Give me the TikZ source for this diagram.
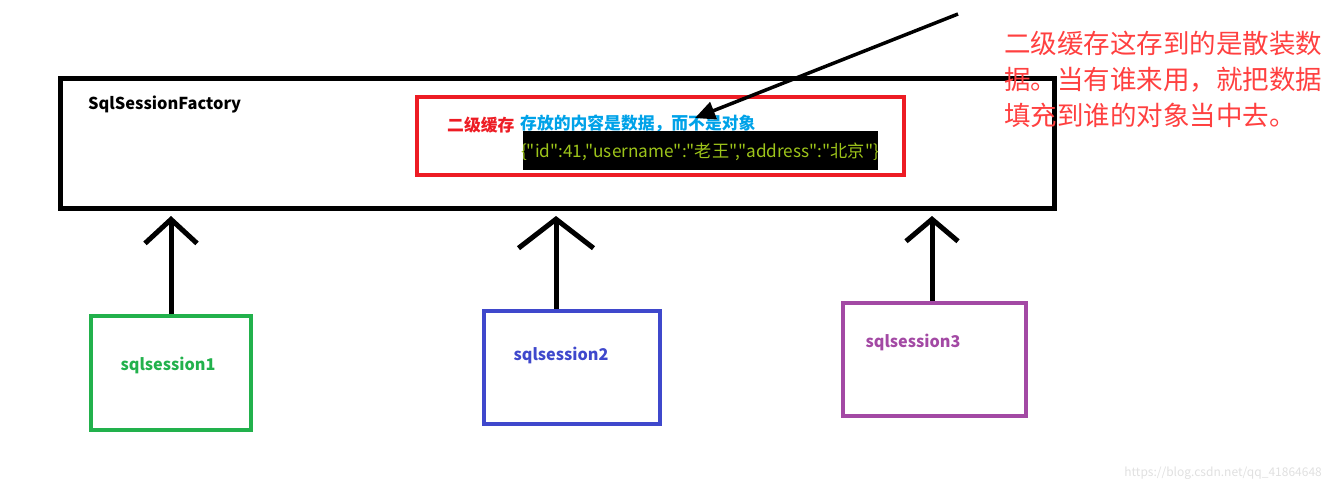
\documentclass[tikz,border=0pt]{standalone}
\usepackage{fontspec}
\setmainfont{Noto Sans CJK SC}
\newfontfamily\jsonfont{Noto Sans CJK SC}[Ligatures=TeXOff]
\usetikzlibrary{positioning, arrows.meta}
\definecolor{cachered}{HTML}{ED1C24}
\definecolor{noteblue}{HTML}{00A2E8}
\definecolor{jsongreen}{HTML}{9DC41A}
\definecolor{notered}{HTML}{FF4040}
\definecolor{sgreen}{HTML}{22B14C}
\definecolor{sblue}{HTML}{3F48CC}
\definecolor{spurple}{HTML}{A349A4}

\tikzset{
  box/.style={draw, line width=4pt, inner sep=0pt},
  boxlabel/.style={font=\fontsize{16.2}{19}\selectfont\bfseries},
  uparrow/.style={line width=5pt, shorten >=5pt},
}

\begin{document}
\begin{tikzpicture}[x=1pt, y=-1pt]
  \useasboundingbox (0,0) rectangle (1330,492);
  % factory and its second level cache
  \node[box, line width=5pt, minimum width=994pt, minimum height=130pt] (factory) at (557.5,143.5) {};
  \node[anchor=west, inner sep=0pt, font=\fontsize{16.4}{19}\selectfont\bfseries] (factorylabel) at (88,104) {SqlSessionFactory};
  \node[box, draw=cachered, minimum width=487pt, minimum height=78pt] (cache) at (660.5,136) {};
  \node[anchor=west, inner sep=0pt, text=cachered, font=\fontsize{16.8}{19}\selectfont\bfseries] (cachelabel) at (447,125) {二级缓存};
  \node[anchor=west, inner sep=0pt, text=noteblue, font=\fontsize{16.8}{19}\selectfont\bfseries] (cachenote) at (520,124) {存放的内容是数据，而不是对象};
  \node[fill=black, inner sep=0pt, minimum width=355pt, minimum height=39pt] (jsonbg) at (700.5,150.5) {};
  \node[inner sep=0pt, text=jsongreen, font=\jsonfont\fontsize{17.2}{20}\selectfont] (json) at (700,152) {\{"id":41,"username":"老王","address":"北京"\}};

  % note on the right
  \coordinate (tail) at (958,14);
  \coordinate (head) at (695,118);
  \draw[line width=3.5pt, -{Triangle[length=20pt, width=18pt]}] (tail) -- (head);
  \node[anchor=north west, inner sep=0pt, text=notered, align=left,
        font=\fontsize{26.5}{32.5}\selectfont] (note) at (1004,31)
        {二级缓存这存到的是散装数\\[3.5pt]据。当有谁来用，就把数据\\[3.5pt]填充到谁的对象当中去。};

  % sessions
  \node[box, draw=sgreen, minimum width=160pt, minimum height=114pt] (session1) at (171,373) {};
  \node[box, draw=sblue, minimum width=176pt, minimum height=113pt] (session2) at (572,367.5) {};
  \node[box, draw=spurple, minimum width=183pt, minimum height=113pt] (session3) at (934.5,359.5) {};
  \node[boxlabel, text=sgreen] (label1) at ([xshift=-3pt, yshift=8pt]session1.center) {sqlsession1};
  \node[boxlabel, text=sblue] (label2) at ([xshift=-11pt, yshift=12.5pt]session2.center) {sqlsession2};
  \node[boxlabel, text=spurple] (label3) at ([xshift=-21.5pt, yshift=17.5pt]session3.center) {sqlsession3};

  \draw[uparrow, -{Straight Barb[length=24pt, width=52pt]}] (session1.north) -- (session1.north |- factory.south);
  \draw[uparrow, -{Straight Barb[length=29pt, width=75pt]}] ([xshift=-16pt]session2.north) -- ([xshift=-16pt]session2.north |- factory.south);
  \draw[uparrow, -{Straight Barb[length=22pt, width=52pt]}] ([xshift=-2.5pt]session3.north) -- ([xshift=-2.5pt]session3.north |- factory.south);

  \node[anchor=east, inner sep=0pt, text=black!12, font=\fontsize{12}{14}\selectfont] (mark) at (1322,473) {https://blog.csdn.net/qq\_41864648};
\end{tikzpicture}
\end{document}
